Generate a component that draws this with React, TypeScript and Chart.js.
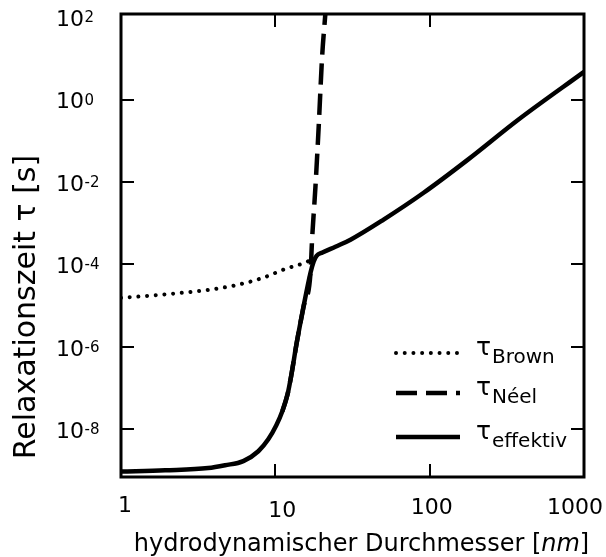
import React, { useEffect, useRef } from "react";
import { Chart, registerables } from "chart.js";

Chart.register(...registerables);

const FONT = "'DejaVu Sans', Verdana, sans-serif";

// hydrodynamic diameter [nm] and relaxation time [s]
const brownDiameter = [1, 1.99, 3.78, 5.66, 8.24, 11.6, 15.0, 16.1, 17.5];
const brownTau = [1.55e-5, 1.9e-5, 2.45e-5, 3.2e-5, 4.7e-5, 7.8e-5, 1.05e-4, 1.17e-4, 1.3e-4];

const neelDiameter = [11.1, 12.0, 12.7, 13.7, 15.2, 16.9, 17.3, 18.2, 19.1, 20.1, 21.1, 21.6];
const neelTau = [2.75e-8, 7.1e-8, 2.1e-7, 1.15e-6, 9.1e-6, 6.3e-5, 4.0e-4, 7.8e-3, 0.224, 11, 123, 400];

const effDiameter = [
  1, 1.93, 3.67, 4.73, 6.2, 7.76, 9.0, 10.15, 11.1, 12.0, 12.7, 13.7, 15.2, 16.9,
  17.7, 18.5, 20.2, 24.5, 30.7, 50.3, 91.4, 177, 373, 1000,
];
const effTau = [
  9.5e-10, 1.02e-9, 1.15e-9, 1.35e-9, 1.7e-9, 2.95e-9, 5.75e-9, 1.26e-8, 2.75e-8, 7.1e-8,
  2.1e-7, 1.15e-6, 9.1e-6, 6.3e-5, 1.17e-4, 1.62e-4, 1.95e-4, 2.7e-4, 4.0e-4, 1.23e-3,
  5.5e-3, 3.5e-2, 0.32, 4.7,
];

const legendSubscripts = ["Brown", "Néel", "effektiv"];

const xTickValues = [1, 10, 100, 1000];
const xTickLabels = ["1", "10", "100", "1000"];
const xTickMarks = [10, 100];
const yTickExponents = [2, 0, -2, -4, -6, -8];
const yTickMarks = [1, 1e-2, 1e-4, 1e-6, 1e-8];

const xTitle = ["hydrodynamischer Durchmesser [", "nm", "]"];
const yTitle = "Relaxationszeit τ [s]";

const toPoints = (xs: number[], ys: number[]) => xs.map((x, i) => ({ x, y: ys[i] }));

const TICK = 13;
// small hand nudges for the x tick labels
const xLabelNudge = [4, 7, 2, -9];
const xLabelDrop = [0, 5, 2, 2];

const decorations = {
  id: "decorations",
  afterDatasetsDraw(chart: any) {
    const { ctx, chartArea: a, scales } = chart;
    const xs = scales.x;
    const ys = scales.y;
    ctx.save();
    ctx.setLineDash([]);
    ctx.strokeStyle = "#000";
    ctx.fillStyle = "#000";
    ctx.lineCap = "butt";
    ctx.lineWidth = 3;
    ctx.strokeRect(a.left, a.top, a.right - a.left, a.bottom - a.top);

    // inward tick marks on all four sides
    ctx.lineWidth = 2;
    ctx.beginPath();
    for (const v of xTickMarks) {
      const px = Math.round(xs.getPixelForValue(v));
      ctx.moveTo(px, a.bottom);
      ctx.lineTo(px, a.bottom - TICK);
      ctx.moveTo(px, a.top);
      ctx.lineTo(px, a.top + TICK);
    }
    for (const v of yTickMarks) {
      const py = Math.round(ys.getPixelForValue(v));
      ctx.moveTo(a.left, py);
      ctx.lineTo(a.left + TICK, py);
      ctx.moveTo(a.right, py);
      ctx.lineTo(a.right - TICK, py);
    }
    ctx.stroke();

    // y tick labels: 10 with superscript exponent
    for (const e of yTickExponents) {
      const py = ys.getPixelForValue(Math.pow(10, e)) + 3;
      ctx.font = `22px ${FONT}`;
      ctx.textAlign = "left";
      ctx.textBaseline = "middle";
      ctx.fillText("10", 56, py);
      const w = ctx.measureText("10").width;
      ctx.font = `15px ${FONT}`;
      ctx.textBaseline = "alphabetic";
      ctx.fillText(String(e), 56 + w + 0.5, py + 2);
    }

    // x tick labels
    ctx.font = `22px ${FONT}`;
    ctx.textAlign = "center";
    ctx.textBaseline = "middle";
    xTickValues.forEach((v, i) => {
      const px = xs.getPixelForValue(v) + xLabelNudge[i];
      ctx.fillText(xTickLabels[i], px, a.bottom + 29 + xLabelDrop[i]);
    });

    // x axis title with italic unit
    const fonts = [`24px ${FONT}`, `italic 24px ${FONT}`, `24px ${FONT}`];
    let total = 0;
    const widths = xTitle.map((t, i) => {
      ctx.font = fonts[i];
      const w = ctx.measureText(t).width;
      total += w;
      return w;
    });
    let cx = (a.left + a.right) / 2 + 9 - total / 2;
    ctx.textAlign = "left";
    ctx.textBaseline = "alphabetic";
    xTitle.forEach((t, i) => {
      ctx.font = fonts[i];
      ctx.fillText(t, cx, a.bottom + 74);
      cx += widths[i];
    });

    // y axis title
    ctx.save();
    ctx.translate(27, 307);
    ctx.rotate(-Math.PI / 2);
    ctx.font = `30px ${FONT}`;
    ctx.textAlign = "center";
    ctx.textBaseline = "middle";
    ctx.fillText(yTitle, 0, 0);
    ctx.restore();

    // legend with subscripted tau labels
    const rowY = [a.bottom - 124, a.bottom - 84, a.bottom - 40];
    chart.data.datasets.forEach((ds: any, i: number) => {
      const y = rowY[i];
      ctx.save();
      ctx.strokeStyle = ds.borderColor;
      ctx.lineWidth = ds.borderWidth;
      ctx.lineCap = ds.borderCapStyle || "butt";
      ctx.setLineDash(ds.borderDash || []);
      ctx.beginPath();
      ctx.moveTo(396, y);
      ctx.lineTo(460, y);
      ctx.stroke();
      ctx.restore();
      ctx.textAlign = "left";
      ctx.textBaseline = "alphabetic";
      ctx.font = `25px ${FONT}`;
      ctx.fillText("τ", 476, y + 2);
      ctx.font = `20px ${FONT}`;
      ctx.fillText(legendSubscripts[i], 492, y + 10);
    });

    ctx.restore();
  },
};

export default function App() {
  const canvasRef = useRef<HTMLCanvasElement | null>(null);

  useEffect(() => {
    if (!canvasRef.current) return;
    const chart = new Chart(canvasRef.current, {
      type: "line",
      data: {
        datasets: [
          {
            label: "τ Brown",
            data: toPoints(brownDiameter, brownTau),
            borderColor: "#000",
            borderWidth: 4,
            borderDash: [0.01, 8.7],
            borderCapStyle: "round",
            pointRadius: 0,
            cubicInterpolationMode: "monotone",
            order: 2,
            clip: 0,
          } as any,
          {
            label: "τ Néel",
            data: toPoints(neelDiameter, neelTau),
            borderColor: "#000",
            borderWidth: 4.5,
            borderDash: [21, 9],
            pointRadius: 0,
            cubicInterpolationMode: "monotone",
            order: 1,
            clip: 0,
          } as any,
          {
            label: "τ effektiv",
            data: toPoints(effDiameter, effTau),
            borderColor: "#000",
            borderWidth: 4.5,
            pointRadius: 0,
            cubicInterpolationMode: "monotone",
            borderJoinStyle: "round",
            order: 0,
            clip: 0,
          } as any,
        ],
      },
      options: {
        responsive: false,
        animation: false,
        layout: { padding: { left: 121, right: 22, top: 14, bottom: 80 } },
        plugins: { legend: { display: false }, tooltip: { enabled: false } },
        scales: {
          x: { type: "logarithmic", min: 1, max: 1000, display: false },
          y: { type: "logarithmic", min: 7.3e-10, max: 119, display: false },
        },
      },
      plugins: [decorations],
    });
    return () => chart.destroy();
  }, []);

  return (
    <div style={{ position: "absolute", left: 0, top: 0, width: 606, height: 557, background: "#fff" }}>
      <canvas ref={canvasRef} width={606} height={557} style={{ display: "block" }} />
    </div>
  );
}
